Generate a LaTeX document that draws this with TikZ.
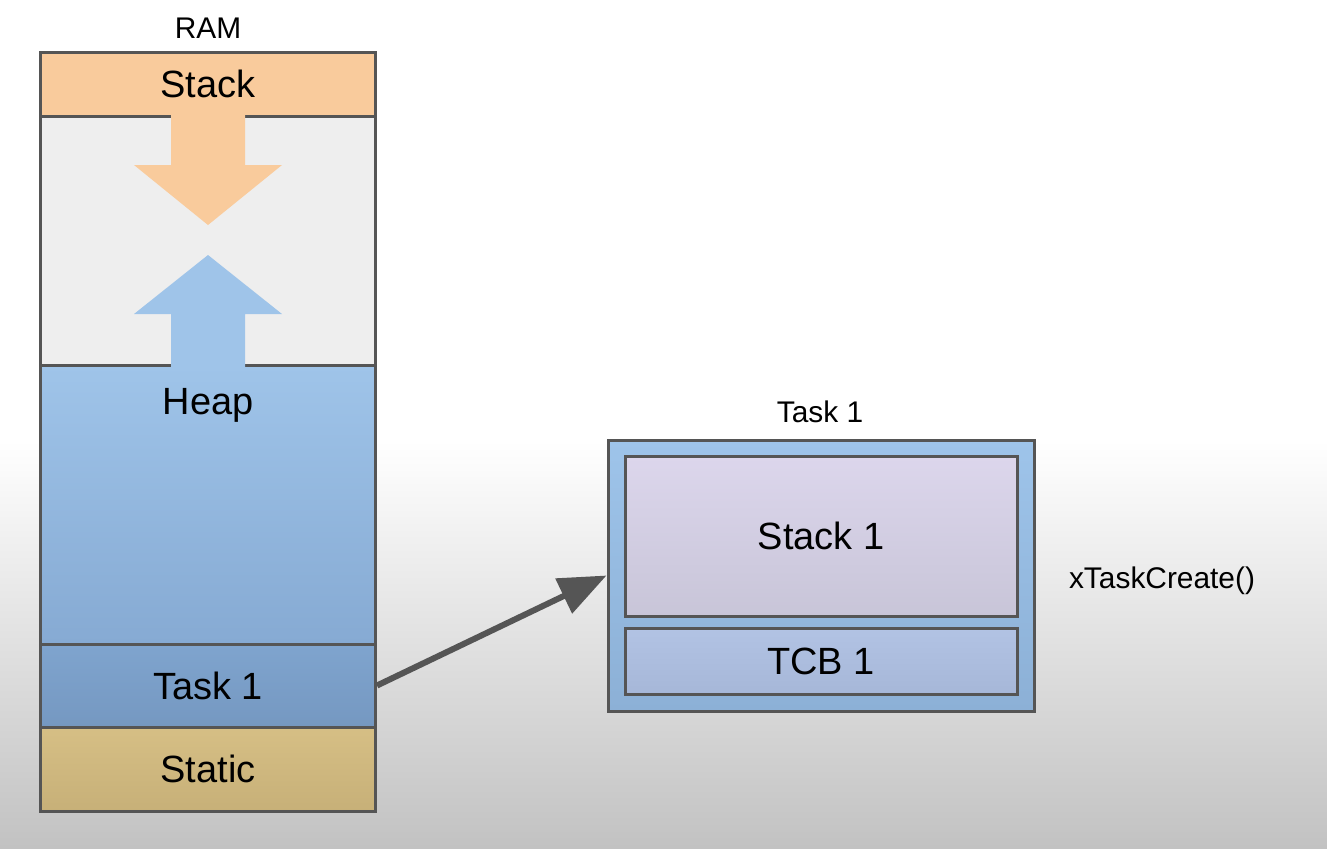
\documentclass[tikz,border=0pt]{standalone}
\usepackage{fontspec}
\setmainfont{Liberation Sans}
\usetikzlibrary{arrows.meta}
\definecolor{frame}{RGB}{85,85,85}
\definecolor{bggray}{RGB}{194,194,194}
\definecolor{stackor}{RGB}{249,203,156}
\definecolor{freegray}{RGB}{238,238,238}
\definecolor{heaptop}{RGB}{159,196,233}
\definecolor{heapbot}{RGB}{134,170,211}
\definecolor{tasktop}{RGB}{127,164,206}
\definecolor{taskbot}{RGB}{117,152,193}
\definecolor{stattop}{RGB}{214,191,133}
\definecolor{statbot}{RGB}{199,176,120}
\definecolor{boxtop}{RGB}{158,196,234}
\definecolor{boxbot}{RGB}{140,176,214}
\definecolor{lavtop}{RGB}{220,214,236}
\definecolor{lavbot}{RGB}{200,197,216}
\definecolor{tcbtop}{RGB}{178,195,228}
\definecolor{tcbbot}{RGB}{166,183,216}
\newcommand{\bigtxt}{\fontsize{21.6}{24}\selectfont}
\newcommand{\smalltxt}{\fontsize{17}{20}\selectfont}
\begin{document}
\begin{tikzpicture}[x=0.2mm,y=-0.2mm]
\tikzstyle{band}=[draw=frame, line width=0.6mm, minimum width=67mm, inner sep=0pt, font=\bigtxt]
\tikzstyle{inner}=[draw=frame, line width=0.6mm, minimum width=78.4mm, inner sep=0pt, font=\bigtxt]
\tikzstyle{caption}=[anchor=base, inner sep=0pt, font=\smalltxt]
\tikzstyle{arrowline}=[draw=frame, line width=1.2mm, -{Triangle[length=9.5mm,width=7.5mm]}]

\useasboundingbox (0,0) rectangle (1327,848);
\fill[white] (0,0) rectangle (1327,848);
\shade[top color=white, bottom color=bggray] (0,440) rectangle (1327,848);

\node[band, fill=stackor, minimum height=12.8mm] (ramstack) at (208,84) {Stack};
\node[band, fill=freegray, minimum height=49.8mm] (free) at (208,240.5) {};
\node[band, top color=heaptop, bottom color=heapbot, minimum height=55.8mm] (heap) at (208,504.5) {};
\node[band, top color=tasktop, bottom color=taskbot, minimum height=16.6mm] (ramtask) at (208,685.5) {Task 1};
\node[band, top color=stattop, bottom color=statbot, minimum height=16.8mm] (static) at (208,769) {Static};

\fill[stackor] (171,113) -- (245,113) -- (245,165) -- (282,165) -- (208,225) -- (134,165) -- (171,165) -- cycle;
\fill[heaptop] (208,255) -- (282,314) -- (245,314) -- (245,368) -- (171,368) -- (171,314) -- (134,314) -- cycle;

\node[caption] (ramlbl) at (208,38) {RAM};
\node[anchor=base, inner sep=0pt, font=\bigtxt] (heaplbl) at (208,414) {Heap};

\node[draw=frame, line width=0.6mm, top color=boxtop, bottom color=boxbot, minimum width=85.2mm, minimum height=54.2mm] (taskbox) at (821,575.5) {};
\node[inner, top color=lavtop, bottom color=lavbot, minimum height=32mm] (stack1) at (821,536) {Stack 1};
\node[inner, top color=tcbtop, bottom color=tcbbot, minimum height=13.2mm] (tcb1) at (821,661) {TCB 1};
\node[caption] (tasklbl) at (820,422) {Task 1};
\node[caption] (create) at (1162,588) {xTaskCreate()};

\draw[arrowline] (ramtask.east) -- (taskbox.west);
\end{tikzpicture}
\end{document}
